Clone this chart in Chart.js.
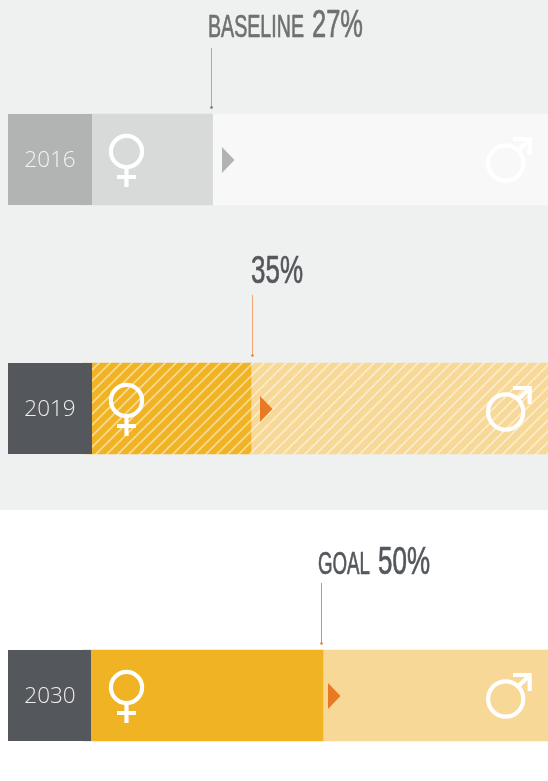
<!DOCTYPE html>
<html><head><meta charset="utf-8">
<style>html,body{margin:0;padding:0;background:#fff}#w{position:relative;width:548px;height:781px}canvas{display:block}</style>
<script src="https://cdn.jsdelivr.net/npm/chart.js@4"></script>
</head><body><div id="w"><canvas id="c" width="548" height="781"></canvas></div>
<script>
const years = ['2016', '2019', '2030'];
const womenShare = [27, 35, 50];
const menShare = [73, 65, 50];
const prefixes = ['BASELINE', '', 'GOAL'];
const valueLabels = ['27%', '35%', '50%'];

const GREY = '#54575c';
function hatch(base) {
  const n = 11, t = document.createElement('canvas');
  t.width = t.height = n;
  const g = t.getContext('2d');
  g.fillStyle = base; g.fillRect(0, 0, n, n);
  g.strokeStyle = 'rgba(255,255,255,0.5)'; g.lineWidth = 1.8;
  for (const o of [-n, 0, n]) { g.beginPath(); g.moveTo(o - 1, n + 1); g.lineTo(o + n + 1, -1); g.stroke(); }
  return g.createPattern(t, 'repeat');
}
const ctx = document.getElementById('c').getContext('2d');
const womenFill = ['#d8dada', hatch('#f0b323'), '#f0b323'];
const menFill = ['#f8f8f8', hatch('#f7d896'), '#f7d896'];
const rowStyle = [
  {top:114, box:'#b2b3b3', boxR:92, year:'#f4f4f4', line:'#a9aaaa', dot:'#6f7170', tri:'#b2b3b3', triX:222, text:'#6f7170', lineX:211.5, y0:48, y1:107},
  {top:363, box:GREY, boxR:92, year:'#eeeeee', line:'#f2a873', dot:'#e97e2e', tri:'#e97a24', triX:260, text:GREY, lineX:252.5, y0:295, y1:355},
  {top:650, box:GREY, boxR:91, year:'#eeeeee', line:'#e98b47', dot:'#e97e2e', tri:'#e97a24', triX:328, text:GREY, lineX:321.5, y0:583, y1:643},
];
const labelPos = [
  {pre:[208,304], val:[312,363], base:36.5, preH:22, valH:28},
  {pre:null, val:[251,303], base:283, preH:22, valH:28},
  {pre:[318,370], val:[378,430], base:574, preH:22, valH:28},
];

class RowScale extends Chart.CategoryScale {
  getPixelForValue(v) { return this.options.rowCentres[v]; }
}
RowScale.id = 'rows';
RowScale.defaults = Chart.CategoryScale.defaults;
Chart.register(RowScale);

function fitText(c, s, x0, x1, base, capH, color) {
  const px = capH / 0.72;
  c.save();
  c.font = px + 'px "Liberation Sans Narrow", "Liberation Sans"';
  c.textBaseline = 'alphabetic'; c.textAlign = 'left';
  c.fillStyle = color; c.strokeStyle = color; c.lineWidth = 0.7; c.lineJoin = 'round';
  const w = c.measureText(s).width;
  c.translate(x0, base); c.scale((x1 - x0) / w, 1);
  c.fillText(s, 0, 0);
  c.strokeText(s, 0, 0);
  c.restore();
}
function female(c, top) {
  c.save(); c.strokeStyle = '#fff'; c.lineWidth = 4.2;
  c.beginPath(); c.arc(126.5, top + 37.5, 15.6, 0, Math.PI * 2); c.stroke();
  c.beginPath(); c.moveTo(126.5, top + 54); c.lineTo(126.5, top + 73);
  c.moveTo(117, top + 63); c.lineTo(136, top + 63); c.stroke();
  c.restore();
}
function male(c, top) {
  c.save(); c.strokeStyle = '#fff'; c.lineWidth = 4.2;
  c.beginPath(); c.arc(505.7, top + 49, 17.6, 0, Math.PI * 2); c.stroke();
  c.beginPath(); c.moveTo(518, top + 36.5); c.lineTo(530, top + 25);
  c.moveTo(513, top + 25); c.lineTo(529.7, top + 25); c.lineTo(529.7, top + 41); c.stroke();
  c.restore();
}
const decor = {
  id: 'decor',
  beforeDraw(ch) {
    const c = ch.ctx;
    c.save(); c.fillStyle = '#fff'; c.fillRect(0, 0, 548, 781);
    c.fillStyle = '#eff1f1'; c.fillRect(0, 0, 548, 510); c.restore();
  },
  afterDatasetsDraw(ch) {
    const c = ch.ctx;
    years.forEach((yr, i) => {
      const r = rowStyle[i], L = labelPos[i];
      c.save();
      c.fillStyle = r.box; c.fillRect(8, r.top, r.boxR - 8, 91);
      c.fillStyle = r.year; c.textAlign = 'center'; c.textBaseline = 'middle';
      c.font = '300 22.5px "Open Sans"';
      c.fillText(yr, 50, r.top + 46.5);
      c.fillStyle = r.tri; c.beginPath();
      c.moveTo(r.triX, r.top + 33); c.lineTo(r.triX + 12.5, r.top + 46); c.lineTo(r.triX, r.top + 59); c.closePath(); c.fill();
      c.strokeStyle = r.line; c.lineWidth = 1;
      c.beginPath(); c.moveTo(r.lineX, r.y0); c.lineTo(r.lineX, r.y1); c.stroke();
      c.fillStyle = r.dot; c.beginPath(); c.arc(r.lineX, r.y1 + .5, 1.3, 0, 7); c.fill();
      c.restore();
      female(c, r.top); male(c, r.top);
      if (L.pre) fitText(c, prefixes[i], L.pre[0], L.pre[1], L.base, L.preH, r.text);
      fitText(c, valueLabels[i], L.val[0], L.val[1], L.base, L.valH, r.text);
    });
  }
};
new Chart(ctx, {
  type: 'bar',
  data: {
    labels: years,
    datasets: [
      {label: 'Women', data: womenShare, backgroundColor: womenFill, borderWidth: 0, barThickness: 91},
      {label: 'Men', data: menShare, backgroundColor: menFill, borderWidth: 0, barThickness: 91},
    ]
  },
  options: {
    indexAxis: 'y', responsive: false, animation: false,
    layout: {padding: 0},
    plugins: {legend: {display: false}, tooltip: {enabled: false}},
    scales: {
      x: {type: 'linear', stacked: true, min: -17.3, max: 96.9, display: false},
      y: {type: 'rows', stacked: true, display: false, rowCentres: [159.5, 408.5, 695.5]}
    }
  },
  plugins: [decor]
});
</script></body></html>
